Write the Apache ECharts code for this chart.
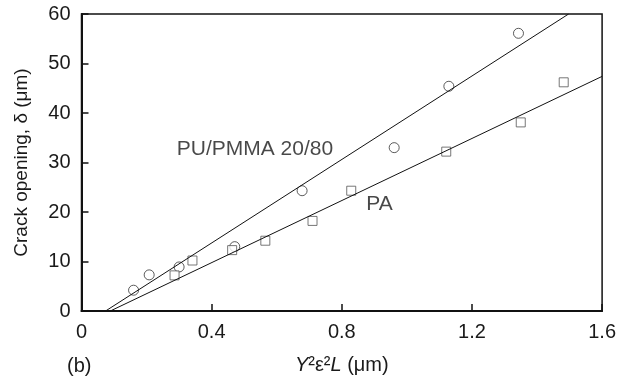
<!DOCTYPE html>
<html>
<head>
<meta charset="utf-8">
<script src="https://cdn.jsdelivr.net/npm/echarts@6/dist/echarts.min.js"></script>
<style>
  html, body { margin: 0; padding: 0; background: #fff; }
  #main { width: 619px; height: 385px; }
</style>
</head>
<body>
<div id="main"></div>
<script>
// PU/PMMA 20/80 (circles)
var puX = [0.16, 0.208, 0.30, 0.471, 0.678, 0.961, 1.129, 1.343];
var puY = [4.2, 7.3, 8.9, 13.0, 24.3, 33.0, 45.4, 56.1];
// PA (squares)
var paX = [0.286, 0.341, 0.463, 0.565, 0.71, 0.829, 1.121, 1.35, 1.482];
var paY = [7.2, 10.2, 12.3, 14.2, 18.2, 24.3, 32.2, 38.1, 46.2];
// fitted lines (end points)
var puFit = [[0.074, 0], [1.497, 60]];
var paFit = [[0.0885, 0], [1.6, 47.4]];
// text labels placed in data space
var labels = [
    {name: 'PU/PMMA 20/80', value: [0.533, 32.7]},
    {name: 'PA', value: [0.916, 21.6]}
];

function pairs(xs, ys) {
    return xs.map(function (x, i) { return [x, ys[i]]; });
}

var font = '"Liberation Sans", Arial, Helvetica, sans-serif';
var txt = '#1a1a1a';

var chart = echarts.init(document.getElementById('main'));
chart.setOption({
    animation: false,
    grid: {
        left: 81.5, right: 13, top: 14, bottom: 74,
        show: true, borderColor: '#111', borderWidth: 1.5
    },
    xAxis: {
        type: 'value', min: 0, max: 1.6, interval: 0.4,
        axisLine: {show: true, lineStyle: {color: '#111', width: 2}},
        axisTick: {show: true, inside: true, length: 7, lineStyle: {color: '#111', width: 1.5}},
        splitLine: {show: false},
        axisLabel: {
            color: txt, fontSize: 20, fontFamily: font, margin: 11,
            formatter: function (v) { return v === 0 ? '0' : v.toFixed(1); }
        },
        name: '{i|Y}²ε²{i|L} (μm)',
        nameLocation: 'middle', nameGap: 44,
        nameTextStyle: {
            color: txt, fontSize: 20, fontFamily: font,
            rich: {i: {fontStyle: 'italic', fontSize: 20, fontFamily: font, color: txt}}
        }
    },
    yAxis: {
        type: 'value', min: 0, max: 60, interval: 10,
        axisLine: {show: true, lineStyle: {color: '#111', width: 2}},
        axisTick: {show: true, inside: true, length: 7, lineStyle: {color: '#111', width: 1.5}},
        splitLine: {show: false},
        axisLabel: {color: txt, fontSize: 20, fontFamily: font, margin: 11},
        name: 'Crack opening, δ (μm)',
        nameLocation: 'middle', nameGap: 50,
        nameTextStyle: {color: txt, fontSize: 19, fontFamily: font}
    },
    graphic: [{
        type: 'text', left: 67, top: 356,
        style: {text: '(b)', fill: txt, font: '20px ' + font}
    }],
    series: [
        {
            type: 'line', data: puFit, symbol: 'none',
            lineStyle: {color: '#111', width: 1}
        },
        {
            type: 'line', data: paFit, symbol: 'none',
            lineStyle: {color: '#111', width: 1}
        },
        {
            type: 'scatter', data: pairs(puX, puY), symbol: 'circle', symbolSize: 10,
            itemStyle: {color: '#fff', borderColor: '#333', borderWidth: 1}
        },
        {
            type: 'scatter', data: pairs(paX, paY), symbol: 'rect', symbolSize: 9,
            itemStyle: {color: '#fff', borderColor: '#555', borderWidth: 1}
        },
        {
            type: 'scatter', data: labels, symbolSize: 0,
            label: {
                show: true, position: 'inside', formatter: '{b}',
                color: txt, fontSize: 21, fontFamily: font
            }
        }
    ]
});
</script>
</body>
</html>
